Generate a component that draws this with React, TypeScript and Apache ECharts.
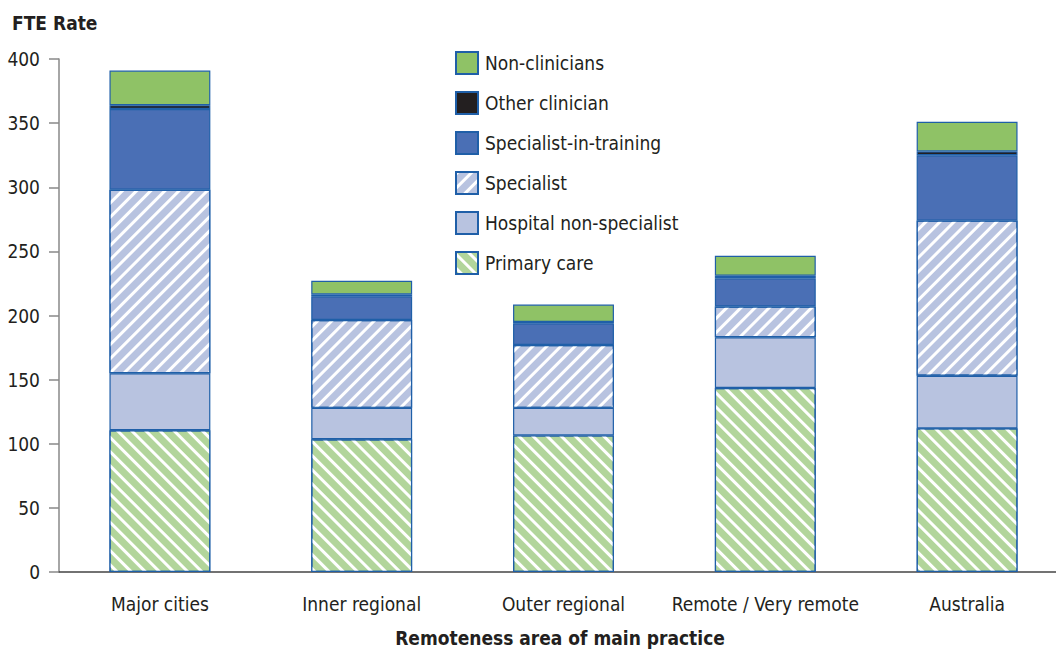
import React, { useEffect, useRef } from "react";
import * as echarts from "echarts";

const categories = ["Major cities", "Inner regional", "Outer regional", "Remote / Very remote", "Australia"];
const primaryCare = [110.5, 103.5, 106.5, 143.5, 112];
const hospitalNonSpecialist = [44.5, 24.5, 21.5, 39.5, 41];
const specialist = [143, 68.5, 49, 24, 121];
const specialistInTraining = [63, 18.5, 17, 22, 51];
const otherClinician = [3, 1.5, 1, 2, 3];
const nonClinicians = [27, 10.5, 13.5, 15.5, 23];
const legendOrder = ["Non-clinicians", "Other clinician", "Specialist-in-training", "Specialist", "Hospital non-specialist", "Primary care"];
const yTicks = [0, 50, 100, 150, 200, 250, 300, 350, 400];

const FONT = "'DejaVu Sans', sans-serif";
const TEXT = "#231f20";
const BORDER = "#1f5fa8";

export default function App() {
  const ref = useRef<HTMLDivElement>(null);
  useEffect(() => {
    if (!ref.current) return;
    const chart = echarts.init(ref.current, undefined, { renderer: "svg" });
    const stripe = (rot: number) => ({
      symbol: "rect",
      symbolSize: 1,
      color: "#ffffff",
      dashArrayX: [1, 0],
      dashArrayY: [3, 7],
      rotation: rot,
    });
    const mk = (name: string, data: number[], color: string, decal?: any) => ({
      name,
      type: "bar",
      stack: "total",
      barWidth: "50%",
      data,
      itemStyle: { color, borderColor: BORDER, borderWidth: 1.2, ...(decal ? { decal } : {}) },
      emphasis: { disabled: true },
    });
    chart.setOption({
      animation: false,
      textStyle: { fontFamily: FONT },
      grid: { left: 59, top: 59, width: 1009, height: 513, containLabel: false },
      legend: {
        orient: "vertical",
        left: 455,
        top: 51,
        padding: 0,
        icon: "rect",
        itemWidth: 22,
        itemHeight: 22,
        itemGap: 16,
        data: legendOrder,
        textStyle: { fontSize: 19, color: TEXT, fontFamily: FONT, padding: [0, 0, 0, 2] },
      },
      xAxis: {
        type: "category",
        data: categories,
        axisLine: { lineStyle: { color: "#444", width: 1.5 } },
        axisTick: { show: false },
        axisLabel: { fontSize: 19, color: TEXT, fontFamily: FONT, margin: 22, interval: 0 },
      },
      yAxis: {
        type: "value",
        min: 0,
        max: 400,
        interval: 50,
        axisLine: { show: true, lineStyle: { color: "#888", width: 1.5 } },
        axisTick: { show: true, length: 10, lineStyle: { color: "#888", width: 1.5 } },
        splitLine: { show: false },
        axisLabel: {
          fontSize: 19,
          color: TEXT,
          fontFamily: FONT,
          margin: 19,
          formatter: (v: number) => (yTicks.includes(v) ? String(v) : ""),
        },
      },
      graphic: [
        {
          type: "text",
          left: 12,
          top: 13,
          style: { text: "FTE Rate", font: `bold 19px ${FONT}`, fill: TEXT },
        },
        {
          type: "text",
          x: 560,
          y: 638,
          style: {
            text: "Remoteness area of main practice",
            font: `bold 19px ${FONT}`,
            fill: TEXT,
            align: "center",
            verticalAlign: "middle",
          },
        },
      ],
      series: [
        mk("Primary care", primaryCare, "#b2d59b", stripe(Math.PI / 4)),
        mk("Hospital non-specialist", hospitalNonSpecialist, "#b8c3e0"),
        mk("Specialist", specialist, "#b8c3e0", stripe(-Math.PI / 4)),
        mk("Specialist-in-training", specialistInTraining, "#4a6fb5"),
        mk("Other clinician", otherClinician, "#231f20"),
        mk("Non-clinicians", nonClinicians, "#8fc266"),
      ],
    });
    const condense = () => {
      ref.current?.querySelectorAll("text").forEach((t) => {
        (t as SVGTextElement).style.fontStretch = "condensed";
      });
    };
    condense();
    chart.on("finished", condense);
    return () => chart.dispose();
  }, []);
  return (
    <div style={{ position: "fixed", left: 0, top: 0, width: 1056, height: 649, overflow: "hidden", background: "#fff" }}>
      <div ref={ref} style={{ width: 1100, height: 649 }} />
    </div>
  );
}
